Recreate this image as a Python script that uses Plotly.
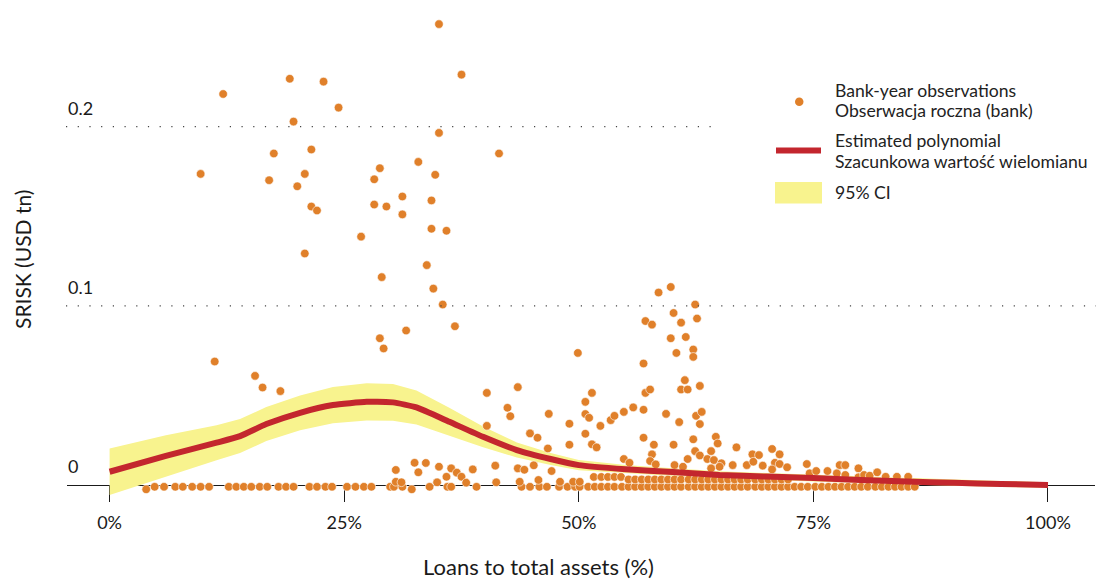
import plotly.graph_objects as go

# ---- Bank-year observations: loans to total assets (%) vs SRISK (USD tn) ----
obs_loans = [
    35.1, 37.5, 19.2, 22.8, 12.1, 24.4, 19.6, 35.1, 17.5, 21.5, 41.5, 9.7, 32.9, 28.8,
    17.0, 20.8, 20.0, 28.2, 34.7, 31.2, 34.3, 28.2, 29.5, 21.5, 22.1, 31.2, 34.3, 35.9,
    26.8, 20.8, 33.8, 29.0, 34.5, 35.5, 36.8, 31.6, 28.8, 29.2, 11.2, 15.5, 16.3, 18.2,
    40.2, 43.5, 42.4, 42.7, 46.8, 40.2, 44.8, 45.6, 46.7, 41.1, 43.5, 44.2, 45.2, 47.1,
    38.7, 41.2, 43.7, 45.7, 30.5, 32.5, 33.7, 32.9, 35.1, 36.4, 35.9, 37.0, 37.5, 38.0,
    34.9, 30.5, 31.1,
    59.8, 58.5, 62.4, 60.1, 62.6, 57.1, 57.8, 60.9, 59.8, 61.4, 60.4, 62.2, 62.2, 49.9,
    56.9, 61.3, 60.9, 61.6, 62.9, 57.1, 57.6, 51.4, 50.7, 55.8, 54.8, 56.9, 53.4, 53.8,
    50.7, 51.1, 59.3, 62.5, 63.1, 62.9, 60.7, 49.0, 52.3, 50.7, 56.9, 58.0, 60.1, 62.2,
    64.6, 64.8, 51.4, 51.9, 49.0, 66.8, 62.4, 62.9, 64.1, 57.8, 54.8, 55.4, 57.6, 58.2,
    60.2, 61.6, 63.7, 64.4, 65.2, 65.0, 66.4, 67.9, 61.1, 64.1,
    70.6, 68.5, 69.2, 71.4, 68.6, 70.9, 71.4, 69.6, 70.6, 72.2, 74.3, 74.6, 75.3, 76.5,
    77.8, 78.4, 77.5, 78.4, 79.8, 79.8, 80.4, 81.0, 81.8, 82.7, 83.9, 85.1,
    48.0, 49.4, 50.1,
]
obs_srisk = [
    0.2572, 0.2290, 0.2267, 0.2251, 0.2182, 0.2106, 0.2028, 0.1965, 0.1850, 0.1872, 0.1850, 0.1736, 0.1803, 0.1768,
    0.1701, 0.1736, 0.1667, 0.1706, 0.1731, 0.1610, 0.1588, 0.1565, 0.1554, 0.1554, 0.1532, 0.1510, 0.1430, 0.1419,
    0.1386, 0.1292, 0.1227, 0.1160, 0.1096, 0.1007, 0.0886, 0.0862, 0.0819, 0.0762, 0.0689, 0.0609, 0.0544, 0.0524,
    0.0514, 0.0546, 0.0431, 0.0384, 0.0397, 0.0330, 0.0288, 0.0264, 0.0204, 0.0108, 0.0093, 0.0085, 0.0110, 0.0078,
    0.0087, 0.0015, 0.0018, 0.0028, 0.0084, 0.0124, 0.0123, 0.0071, 0.0102, 0.0093, 0.0046, 0.0069, 0.0046, 0.0013,
    0.0015, 0.0018, 0.0015,
    0.1105, 0.1074, 0.1007, 0.0960, 0.0929, 0.0915, 0.0895, 0.0906, 0.0819, 0.0826, 0.0737, 0.0756, 0.0715, 0.0737,
    0.0678, 0.0585, 0.0533, 0.0533, 0.0553, 0.0514, 0.0533, 0.0514, 0.0464, 0.0433, 0.0408, 0.0420, 0.0362, 0.0386,
    0.0396, 0.0375, 0.0397, 0.0386, 0.0408, 0.0340, 0.0351, 0.0342, 0.0330, 0.0286, 0.0264, 0.0225, 0.0225, 0.0255,
    0.0269, 0.0232, 0.0227, 0.0210, 0.0225, 0.0210, 0.0189, 0.0165, 0.0189, 0.0171, 0.0145, 0.0124, 0.0134, 0.0115,
    0.0111, 0.0145, 0.0145, 0.0139, 0.0121, 0.0102, 0.0111, 0.0111, 0.0102, 0.0093,
    0.0201, 0.0171, 0.0167, 0.0171, 0.0130, 0.0124, 0.0117, 0.0108, 0.0087, 0.0099, 0.0117, 0.0065, 0.0078, 0.0078,
    0.0111, 0.0111, 0.0065, 0.0056, 0.0093, 0.0043, 0.0056, 0.0052, 0.0071, 0.0046, 0.0046, 0.0046,
    0.0018, 0.0018, 0.0018,
]

# Observations sitting at (or just under) zero SRISK
floor_loans = [
    3.9, 4.8, 5.8, 7.0, 7.8, 8.8, 9.7, 10.6, 12.7, 13.5, 14.3, 15.1, 16.0, 16.8, 18.0,
    18.8, 19.6, 21.3, 22.1, 23.0, 23.7, 25.3, 26.2, 27.1, 27.9, 29.9, 30.3, 31.2, 32.2,
    34.1, 36.0, 36.4, 39.1, 43.9, 44.8, 45.8, 46.6, 47.9, 48.8, 49.6, 50.1,
    51.0, 51.7, 52.4, 53.1, 53.8, 54.6, 55.3, 56.0, 56.7, 57.4, 58.1, 58.8, 59.5, 60.2,
    60.9, 61.7, 62.4, 63.1, 63.8, 64.5, 65.2, 65.9, 66.6, 67.3, 68.0, 68.8, 69.5, 70.2,
    70.9, 71.6, 72.3, 73.0, 73.7, 74.4, 75.2, 75.9, 76.6, 77.3, 78.0, 78.7, 79.4, 80.1,
    80.8, 81.6, 82.3, 83.0, 83.7, 84.4, 85.1, 85.8,
]
floor_srisk = [
    -0.0024, -0.0010, -0.0010, -0.0010, -0.0010, -0.0010, -0.0010, -0.0010, -0.0010, -0.0010, -0.0010, -0.0010, -0.0010, -0.0010, -0.0010,
    -0.0010, -0.0010, -0.0010, -0.0010, -0.0010, -0.0010, -0.0010, -0.0010, -0.0010, -0.0010, -0.0010, -0.0010, -0.0010, -0.0024,
    -0.0010, -0.0010, -0.0010, -0.0010, -0.0010, -0.0010, -0.0010, -0.0010, -0.0010, -0.0010, -0.0010, -0.0010,
    -0.0010, -0.0010, -0.0010, -0.0010, -0.0010, -0.0010, -0.0010, -0.0010, -0.0010, -0.0010, -0.0010, -0.0010, -0.0010, -0.0010,
    -0.0010, -0.0010, -0.0010, -0.0010, -0.0010, -0.0010, -0.0010, -0.0010, -0.0010, -0.0010, -0.0010, -0.0010, -0.0010, -0.0010,
    -0.0010, -0.0010, -0.0010, -0.0010, -0.0010, -0.0010, -0.0010, -0.0010, -0.0010, -0.0010, -0.0010, -0.0010, -0.0010, -0.0010,
    -0.0010, -0.0010, -0.0010, -0.0010, -0.0010, -0.0010, -0.0010, -0.0010,
]

# Small positive values stacked just above the floor
low_loans = [
    51.6, 52.4, 53.1, 53.8, 54.5,
    55.3, 56.0, 56.7, 57.4, 58.1, 58.8, 59.5, 60.2, 60.9, 61.7, 62.4, 63.1, 63.8, 64.5,
    65.2, 65.9, 66.6, 67.3, 68.0, 68.8, 69.5, 70.2, 70.9, 71.6, 72.3,
]
low_srisk = [
    0.0045, 0.0045, 0.0045, 0.0045, 0.0045,
    0.0031, 0.0031, 0.0031, 0.0031, 0.0031, 0.0031, 0.0031, 0.0031, 0.0031, 0.0031, 0.0031, 0.0031, 0.0031, 0.0031,
    0.0031, 0.0031, 0.0031, 0.0031, 0.0031, 0.0031, 0.0031, 0.0031, 0.0031, 0.0031, 0.0031,
]

# ---- Estimated polynomial and its 95% confidence interval ----
fit_loans = [0, 6, 11.4, 13.9, 16.7, 20.3, 23.8, 27.4, 30.2, 32.7, 36.2, 39.8, 43.4,
             47.0, 50.0, 55, 60, 65, 70, 75, 80, 85, 90, 95, 100]
fit_srisk = [0.0074, 0.0162, 0.0236, 0.0273, 0.0340, 0.0403, 0.0446, 0.0464, 0.0461,
             0.0433, 0.0353, 0.0269, 0.0195, 0.0145, 0.0111, 0.0088, 0.0072, 0.0056,
             0.0047, 0.0039, 0.0028, 0.0019, 0.0012, 0.0006, 0.0]
ci_upper = [0.0204, 0.0277, 0.0334, 0.0368, 0.0435, 0.0500, 0.0547, 0.0568, 0.0563,
            0.0528, 0.0431, 0.0327, 0.0237, 0.0179, 0.0140, 0.0112, 0.0094, 0.0077,
            0.0067, 0.0058, 0.0046, 0.0037, 0.0029, 0.0023, 0.0016]
ci_lower = [-0.0056, 0.0047, 0.0138, 0.0178, 0.0245, 0.0306, 0.0345, 0.0360, 0.0359,
            0.0338, 0.0275, 0.0211, 0.0153, 0.0111, 0.0082, 0.0064, 0.0050, 0.0035,
            0.0027, 0.0020, 0.0010, 0.0001, -0.0005, -0.0011, -0.0016]

x_ticks = [0, 25, 50, 75, 100]
x_tick_text = ["0%", "25%", "50%", "75%", "100%"]
y_ticks = [0.2, 0.1, 0]
y_tick_text = ["0.2", "0.1", "0"]

legend_labels = [
    "Bank-year observations", "Obserwacja roczna (bank)",
    "Estimated polynomial", "Szacunkowa wartość wielomianu",
    "95% CI",
]

# ---- styling ----
W, H = 1097, 581
FONT = "Lato"
INK = "#1a1a1a"
ORANGE = "#E0802A"
RED = "#C3262E"
YELLOW = "#F8F38E"


def px(xp):
    return xp / W


def py(yp):
    return 1 - yp / H


fig = go.Figure()

fig.add_trace(go.Scatter(
    x=fit_loans + fit_loans[::-1],
    y=ci_upper + ci_lower[::-1],
    fill="toself", fillcolor=YELLOW, line=dict(width=0),
    mode="lines", hoverinfo="skip",
))

marker_style = dict(color=ORANGE, size=8.6, line=dict(color="white", width=0.6))
for xs, ys in ((floor_loans, floor_srisk), (low_loans, low_srisk), (obs_loans, obs_srisk)):
    fig.add_trace(go.Scatter(x=xs, y=ys, mode="markers", marker=marker_style, cliponaxis=False))

fig.add_trace(go.Scatter(
    x=fit_loans, y=fit_srisk, mode="lines",
    line=dict(color=RED, width=6, shape="spline", smoothing=0.5),
))

shapes = []
# dotted reference lines
dot_dash = "1.2px,10.5px"
shapes.append(dict(type="line", xref="paper", yref="y", x0=px(66), x1=px(720), y0=0.2, y1=0.2,
                   line=dict(color="#444", width=1.2, dash=dot_dash)))
shapes.append(dict(type="line", xref="paper", yref="y", x0=px(66), x1=px(1096), y0=0.1, y1=0.1,
                   line=dict(color="#444", width=1.2, dash=dot_dash)))

# legend keys
shapes.append(dict(type="circle", xref="paper", yref="paper",
                   x0=px(795), x1=px(803.5), y0=py(106), y1=py(97.5),
                   fillcolor=ORANGE, line=dict(width=0)))
shapes.append(dict(type="line", xref="paper", yref="paper",
                   x0=px(776), x1=px(821), y0=py(150.5), y1=py(150.5),
                   line=dict(color=RED, width=6)))
shapes.append(dict(type="rect", xref="paper", yref="paper",
                   x0=px(775), x1=px(822), y0=py(182), y1=py(203.5),
                   fillcolor=YELLOW, line=dict(width=0)))

annotations = []
for v, t in zip(y_ticks, y_tick_text):
    annotations.append(dict(x=px(66), xref="paper", xanchor="left", y=v, yref="y",
                            yanchor="middle", yshift=19, text=t, showarrow=False,
                            font=dict(family=FONT, size=18, color=INK)))

legend_rows = [91, 111, 141, 161, 193]
for t, yp in zip(legend_labels, legend_rows):
    annotations.append(dict(x=px(833), xref="paper", xanchor="left", y=py(yp), yref="paper",
                            yanchor="middle", text=t, showarrow=False,
                            font=dict(family=FONT, size=17.6, color="#222")))

annotations.append(dict(x=px(538), xref="paper", y=py(566), yref="paper", xanchor="center",
                        yanchor="middle", text="Loans to total assets (%)", showarrow=False,
                        font=dict(family=FONT, size=22, color=INK)))
annotations.append(dict(x=px(22), xref="paper", y=py(260), yref="paper", xanchor="center",
                        yanchor="middle", text="SRISK (USD tn)", textangle=-90, showarrow=False,
                        font=dict(family=FONT, size=21, color=INK)))

fig.update_layout(
    width=W, height=H,
    margin=dict(l=0, r=0, t=0, b=0),
    paper_bgcolor="white", plot_bgcolor="white",
    showlegend=False,
    shapes=shapes, annotations=annotations,
    xaxis=dict(
        domain=[px(67), px(1095)],
        range=[-4.54, 105.01],
        anchor="free", position=py(485),
        showline=True, linecolor=INK, linewidth=1,
        ticks="outside", ticklen=16, tickwidth=1, tickcolor=INK,
        tickvals=x_ticks, ticktext=x_tick_text,
        tickfont=dict(family=FONT, size=18, color=INK),
        ticklabelstandoff=5,
        showgrid=False, zeroline=False, layer="below traces",
    ),
    yaxis=dict(domain=[0, 1], range=[-0.05357, 0.27065], visible=False),
)

fig.write_html("out.html")
